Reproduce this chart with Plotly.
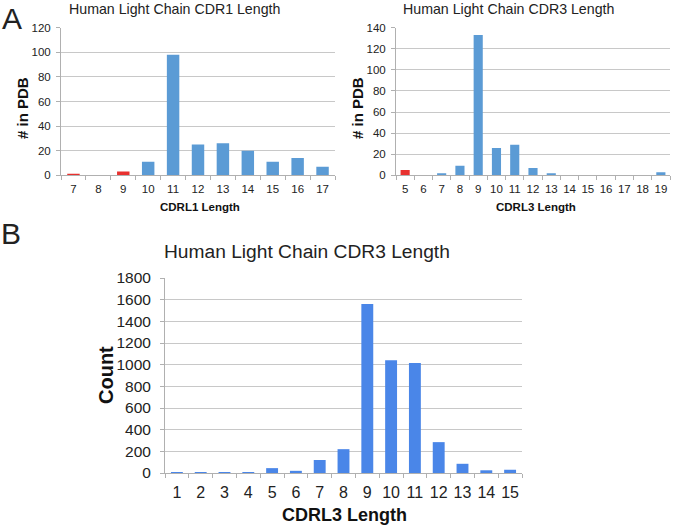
import plotly.graph_objects as go

# ---- data ----
cdr1_lengths = ["7", "8", "9", "10", "11", "12", "13", "14", "15", "16", "17"]
cdr1_pdb_counts = [1, 0, 3, 11, 98, 25, 26, 20, 11, 14, 7]
cdr1_highlight = ["7", "9"]

cdr3_lengths = ["5", "6", "7", "8", "9", "10", "11", "12", "13", "14", "15", "16", "17", "18", "19"]
cdr3_pdb_counts = [5, 0, 2, 9, 133, 26, 29, 7, 2, 0, 0, 0, 0, 0, 3]
cdr3_highlight = ["5"]

rep_lengths = ["1", "2", "3", "4", "5", "6", "7", "8", "9", "10", "11", "12", "13", "14", "15"]
rep_counts = [5, 5, 5, 5, 45, 20, 120, 220, 1560, 1040, 1015, 285, 85, 25, 30]

BLUE_A = "#5b9bd5"
RED_A = "#e8312f"
BLUE_B = "#4a86e8"
FONT = "Liberation Sans, Arial, Helvetica, sans-serif"
TXT = "#222222"

W, H = 673, 526


def px_x(v):
    return v / W


def px_y(v):
    return 1 - v / H


fig = go.Figure()

fig.add_trace(go.Bar(
    x=cdr1_lengths, y=cdr1_pdb_counts,
    marker=dict(color=[RED_A if c in cdr1_highlight else BLUE_A for c in cdr1_lengths], line=dict(width=0)),
    xaxis="x", yaxis="y", showlegend=False))
fig.add_trace(go.Bar(
    x=cdr3_lengths, y=cdr3_pdb_counts,
    marker=dict(color=[RED_A if c in cdr3_highlight else BLUE_A for c in cdr3_lengths], line=dict(width=0)),
    xaxis="x2", yaxis="y2", showlegend=False))
fig.add_trace(go.Bar(
    x=rep_lengths, y=rep_counts,
    marker=dict(color=BLUE_B, line=dict(width=0)),
    xaxis="x3", yaxis="y3", showlegend=False))

grid = "#c8c8c8"
axis_line = "#b0b0b0"

def xaxis(domain, anchor, size, standoff):
    return dict(domain=domain, anchor=anchor, type="category",
                showline=True, linecolor=axis_line, linewidth=1,
                ticks="outside", tickson="boundaries", ticklen=4, tickcolor=axis_line,
                showgrid=False, tickfont=dict(family=FONT, size=size, color=TXT),
                tickangle=0, automargin=False,
                ticklabelstandoff=standoff, fixedrange=True)

def yaxis(domain, anchor, rng, dtick, size, standoff):
    return dict(domain=domain, anchor=anchor, range=rng, dtick=dtick,
                showline=True, linecolor=axis_line, linewidth=1,
                ticks="outside", ticklen=4, tickcolor=axis_line,
                showgrid=True, gridcolor=grid, gridwidth=1, zeroline=False,
                tickfont=dict(family=FONT, size=size, color=TXT),
                automargin=False,
                ticklabelstandoff=standoff, fixedrange=True)

fig.update_layout(
    width=W, height=H,
    margin=dict(l=0, r=0, t=0, b=0),
    paper_bgcolor="white", plot_bgcolor="white",
    bargap=0.5,
    xaxis=xaxis([px_x(61), px_x(335)], "y", 11.5, 3),
    yaxis=yaxis([px_y(175.3), px_y(27.7)], "x", [0, 120], 20, 11.5, 3),
    xaxis2=xaxis([px_x(396), px_x(670)], "y2", 11.5, 3),
    yaxis2=yaxis([px_y(175.3), px_y(27.7)], "x2", [0, 140], 20, 11.5, 3),
    xaxis3=xaxis([px_x(165), px_x(522)], "y3", 16, 5),
    yaxis3=yaxis([px_y(473), px_y(278)], "x3", [0, 1800], 200, 15.5, 6),
)

def ann(text, x, y, size, bold=False, angle=0, xanchor="center", yanchor="middle"):
    fig.add_annotation(
        text=f"<b>{text}</b>" if bold else text,
        x=px_x(x), y=px_y(y), xref="paper", yref="paper",
        xanchor=xanchor, yanchor=yanchor, showarrow=False, textangle=angle,
        font=dict(family=FONT, size=size, color=TXT if not bold else "#111111"))

# Panel letters
ann("A", 0, 0, 30, xanchor="left", yanchor="top")
ann("B", -1, 234, 30, xanchor="left")

# Panel A titles
ann("Human Light Chain CDR1 Length", 174, 9, 14.2)
ann("Human Light Chain CDR3 Length", 508, 9, 14.2)
ann("# in PDB", 23, 108, 15, bold=True, angle=-90)
ann("# in PDB", 358, 108, 15, bold=True, angle=-90)
ann("CDRL1 Length", 200, 207, 11.5, bold=True)
ann("CDRL3 Length", 536, 207, 11.5, bold=True)

# Panel B titles
ann("Human Light Chain CDR3 Length", 307, 251, 19.2)
ann("Count", 106, 375, 20, bold=True, angle=-90)
ann("CDRL3 Length", 344, 515, 18, bold=True)

fig.write_html(
    "out.html",
    config={"displayModeBar": False},
    post_script="document.body.style.margin='0';document.body.style.overflow='hidden';",
)
